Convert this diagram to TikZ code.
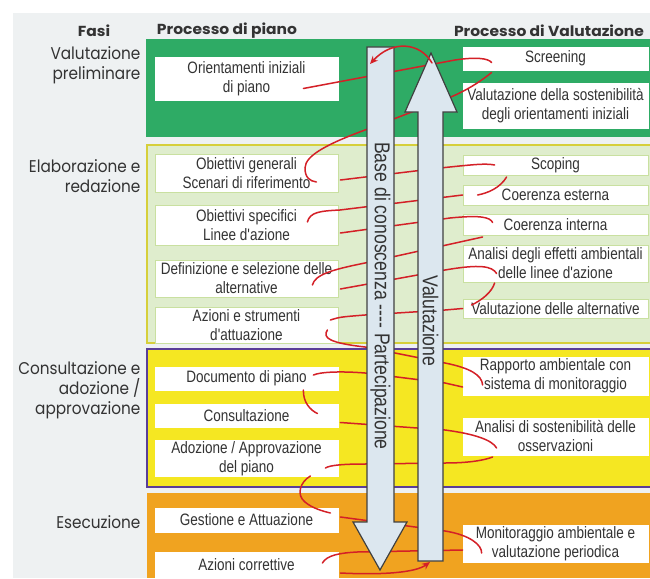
\documentclass[tikz,border=0pt]{standalone}
\usepackage{fontspec}
\usetikzlibrary{calc,arrows.meta}
\newfontfamily\boxfont[FakeStretch=0.82]{Liberation Sans}
\newfontfamily\phasefont[FakeStretch=0.9]{Poppins}
\newfontfamily\headfont[FakeStretch=1.07]{Poppins}
\definecolor{bggrey}{HTML}{EEF1F2}
\definecolor{bandgreen}{HTML}{2EAB65}
\definecolor{elabfill}{HTML}{DFEDCD}
\definecolor{elabline}{HTML}{D6CF3A}
\definecolor{boxline}{HTML}{C9E0A0}
\definecolor{bandyellow}{HTML}{F5E722}
\definecolor{bandpurple}{HTML}{5A3E98}
\definecolor{bandorange}{HTML}{F0A320}
\definecolor{redline}{HTML}{D42027}
\definecolor{arrowfill}{HTML}{DCE7EF}
\definecolor{arrowline}{HTML}{404040}
\definecolor{txt}{HTML}{333333}

\begin{document}
\begin{tikzpicture}[x=1pt, y=-1pt,
    lbox/.style = {draw=#1, fill=white, line width=0.8pt, minimum width=183pt, inner sep=1pt, align=center, text=txt, font=\boxfont\fontsize{16.5}{19}\selectfont},
    rbox/.style = {lbox=#1, minimum width=185pt},
    phase/.style = {anchor=east, align=right, text=txt, font=\phasefont\fontsize{17}{20}\selectfont},
    head/.style = {text=txt, font=\headfont\bfseries\fontsize{14.5}{16}\selectfont},
    bigarrow/.style = {fill=arrowfill, draw=arrowline, line width=1.2pt},
    arrowtext/.style = {rotate=-90, text=txt, font=\boxfont\fontsize{21.5}{24}\selectfont},
    red/.style = {draw=redline, line width=1.5pt, line cap=round},
    redarrow/.style = {red, -{Stealth[length=8pt,width=7pt]}}]
    \useasboundingbox (0,0) rectangle (650,578);
    \fill[white] (0,0) rectangle (650,578);
    \fill[bggrey] (13,13) rectangle (650,578);
    \fill[bandgreen] (146,39) rectangle (650,137);
    \draw[elabline, fill=elabfill, line width=1.2pt] (147,145) rectangle (660,343);
    \draw[bandpurple, fill=bandyellow, line width=2pt] (147,349) rectangle (660,487);
    \fill[bandorange] (147,493) rectangle (650,578);

    \node[head] (h1) at (94,31) {Fasi};
    \node[head] (h2) at (227,31) {Processo di piano};
    \node[head] (h3) at (549,31) {Processo di Valutazione};

    \node[phase] (f1) at (144,65)  {Valutazione\\preliminare};
    \node[phase] (f2) at (144,176) {Elaborazione e\\redazione};
    \node[phase] (f3) at (144,390) {Consultazione e\\adozione /\\approvazione};
    \node[phase] (f4) at (144,522) {Esecuzione};

    \node[lbox=white, minimum height=43pt]   (or)   at (246.5,78.5) {Orientamenti iniziali\\di piano};
    \node[lbox=boxline, minimum height=38pt] (og)   at (246.5,173)  {Obiettivi generali\\Scenari di riferimento};
    \node[lbox=boxline, minimum height=40pt] (os)   at (246.5,225)  {Obiettivi specifici\\Linee d'azione};
    \node[lbox=boxline, minimum height=37pt] (def)  at (246.5,278.5) {Definizione e selezione delle\\alternative};
    \node[lbox=boxline, minimum height=36pt] (az)   at (246.5,325)  {Azioni e strumenti\\d'attuazione};
    \node[lbox=white, minimum height=23pt]   (doc)  at (246.5,378.5) {Documento di piano};
    \node[lbox=white, minimum height=23pt]   (cons) at (246.5,415.5) {Consultazione};
    \node[lbox=white, minimum height=33pt]   (ado)  at (246.5,458.5) {Adozione / Approvazione\\del piano};
    \node[lbox=white, minimum height=24pt]   (ges)  at (246.5,520)  {Gestione e Attuazione};
    \node[lbox=white, minimum height=25pt]   (corr) at (246.5,564.5) {Azioni correttive};

    \node[rbox=white, minimum height=23pt]   (scr)  at (555.5,58.5) {Screening};
    \node[rbox=white, minimum height=45pt]   (vso)  at (555.5,105.5) {Valutazione della sostenibilità\\degli orientamenti iniziali};
    \node[rbox=boxline, minimum height=20pt] (scop) at (555.5,165)  {Scoping};
    \node[rbox=boxline, minimum height=20pt] (ce)   at (555.5,195)  {Coerenza esterna};
    \node[rbox=boxline, minimum height=21pt] (ci)   at (555.5,224.5) {Coerenza interna};
    \node[rbox=boxline, minimum height=37pt] (aef)  at (555.5,263.5) {Analisi degli effetti ambientali\\delle linee d'azione};
    \node[rbox=boxline, minimum height=19pt] (val)  at (555.5,308.5) {Valutazione delle alternative};
    \node[rbox=white, minimum height=38pt]   (rap)  at (555.5,376)  {Rapporto ambientale con\\sistema di monitoraggio};
    \node[rbox=white, minimum height=37pt]   (ass)  at (555.5,436.5) {Analisi di sostenibilità delle\\osservazioni};
    \node[rbox=white, minimum height=37pt]   (mon)  at (555.5,543.5) {Monitoraggio ambientale e\\valutazione periodica};

    \coordinate (kbtop) at (370,64);
    \coordinate (vabot) at (430,562);

    \draw[red] ($(or.east)+(-35,10)$) -- (455,60) .. controls (475,57) and (488,58) .. ($(scr.west)+(29,4)$);
    \draw[red] ($(vso.west)+(29,-33)$) .. controls (470,90) and (450,98) .. (430,105) -- (365,130)
        .. controls (330,143) and (305,155) .. (305,168) .. controls (305,178) and (310,181) .. ($(og.east)+(-22,9)$);
    \draw[red] ($(og.east)+(2,7)$) -- (440,168) .. controls (470,165) and (485,163) .. ($(scop.west)+(32,0)$);
    \draw[red] ($(scop.west)+(44,12)$) .. controls (500,188) and (488,193) .. ($(ce.west)+(15,0)$);
    \draw[red] ($(os.east)+(-31,-3)$) .. controls (310,212) and (320,211) .. (340,210) -- (ce.west);
    \draw[red] ($(os.east)+(2,8)$) -- (450,218) .. controls (480,215) and (490,217) .. ($(ci.west)+(30,-2)$);
    \draw[red] ($(def.east)+(-26,6.5)$) .. controls (315,275) and (330,270) .. (365,263) -- ($(aef.west)+(20,-26.5)$);
    \draw[red] ($(def.east)+(2,10.5)$) -- (445,270) .. controls (480,264) and (492,266) .. ($(aef.west)+(34,10)$);
    \draw[red] ($(aef.west)+(32,19.5)$) .. controls (492,292) and (482,300) .. ($(val.west)+(9,-3.5)$);
    \draw[red] ($(az.east)+(-8,-5)$) .. controls (340,317) .. (365,315) -- (445,310) -- (val.west);
    \draw[red] ($(az.east)+(-11,5)$) .. controls (322,338) and (330,343) .. (365,347) -- (445,363)
        .. controls (470,368) and (482,375) .. ($(rap.west)+(20,9)$);
    \draw[red] ($(doc.east)+(-25,-3.5)$) .. controls (320,372) and (340,371) .. (365,373) -- (445,383) -- ($(rap.west)+(0,11)$);
    \draw[red] ($(doc.east)+(-35,11.5)$) .. controls (303,402) and (310,410) .. ($(cons.east)+(-21,-2)$);
    \draw[red] ($(cons.east)+(2,7)$) -- (445,430) .. controls (475,434) and (492,440) .. ($(ass.west)+(34,11.5)$);
    \draw[red] ($(ado.east)+(-13,9.5)$) .. controls (330,465) and (345,464) .. (365,464) -- (445,463)
        .. controls (470,463) and (485,460) .. ($(ass.west)+(30,20.5)$);
    \draw[red] ($(ado.east)+(-28,17.5)$) .. controls (300,482) and (296,495) .. (305,502)
        .. controls (312,508) and (322,511) .. ($(ges.east)+(-8,-7)$);
    \draw[red] ($(ges.east)+(2,-3)$) -- (445,531) .. controls (470,535) and (482,545) .. ($(mon.west)+(19,9.5)$);
    \draw[red] ($(corr.east)+(-16,-1.5)$) .. controls (327,555) and (340,553) .. (357,552) -- ($(mon.west)+(0,6.5)$);

    \draw[bigarrow] (367,47) -- (394,47) -- (394,522) -- (407,522) -- (380,570) -- (353,522) -- (367,522) -- cycle;
    \draw[bigarrow] (418,561) -- (443,561) -- (443,112) -- (457,112) -- (431,53) -- (405,112) -- (418,112) -- cycle;
    \node[arrowtext] (kb) at (380.5,296) {Base di conoscenza {-}{-}{-}{-} Partecipazione};
    \node[arrowtext] (va) at (430.5,321) {Valutazione};

    \draw[redarrow] (432,63) .. controls (420,42) and (392,40) .. (kbtop);
    \draw[redarrow] ($(corr.east)+(2,8.5)$) .. controls (380,575) and (415,573) .. (vabot);
\end{tikzpicture}
\end{document}
